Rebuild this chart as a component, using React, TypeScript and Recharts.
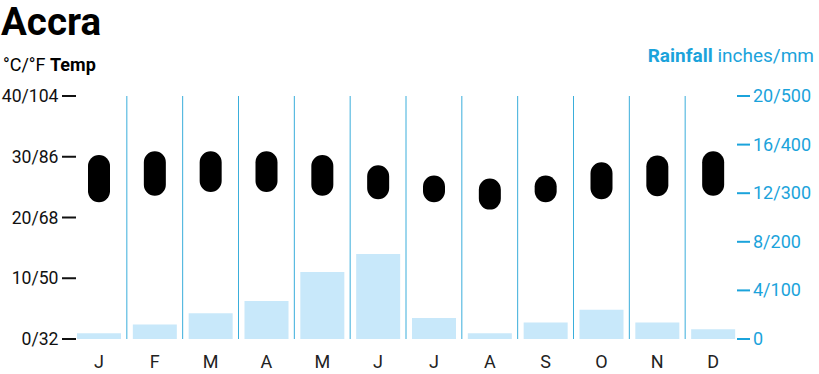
import React from 'react';
import { ComposedChart, Bar, XAxis, YAxis, CartesianGrid } from 'recharts';

const months = ['J', 'F', 'M', 'A', 'M', 'J', 'J', 'A', 'S', 'O', 'N', 'D'];
const tempMin = [22.5, 23.6, 24.2, 24.2, 23.6, 23.0, 22.5, 21.3, 22.5, 23.0, 23.5, 23.6];
const tempMax = [30.3, 30.9, 30.9, 30.9, 30.3, 28.6, 26.9, 26.4, 26.9, 29.1, 30.2, 30.9];
const rainfall = [12, 30, 53, 78, 138, 175, 43, 12, 34, 60, 34, 20];

const tempTicks = [0, 10, 20, 30, 40];
const tempTickLabels = ['0/32', '10/50', '20/68', '30/86', '40/104'];
const rainTicks = [0, 100, 200, 300, 400, 500];
const rainTickLabels = ['0', '4/100', '8/200', '12/300', '16/400', '20/500'];

const data = months.map((m, i) => ({
  key: `${m}${i}`,
  month: m,
  temp: [tempMin[i], tempMax[i]],
  rain: rainfall[i],
}));

const FONT = 'Roboto, sans-serif';
const CYAN = '#1ba3db';
const GRID = '#3aaedb';

const LeftTick = (props: any) => {
  const { y, payload } = props;
  const label = tempTickLabels[tempTicks.indexOf(payload.value)];
  return (
    <g>
      <text x={58.5} y={y} dy={6} textAnchor="end" fontSize={17.6} fontFamily={FONT} fill="#111">
        {label}
      </text>
      <line x1={62} x2={76} y1={y} y2={y} stroke="#111" strokeWidth={2} />
    </g>
  );
};

const RightTick = (props: any) => {
  const { y, payload } = props;
  const label = rainTickLabels[rainTicks.indexOf(payload.value)];
  return (
    <g>
      <line x1={737} x2={750} y1={y} y2={y} stroke={CYAN} strokeWidth={2} />
      <text x={753} y={y} dy={6} textAnchor="start" fontSize={18} fontFamily={FONT} fill={CYAN}>
        {label}
      </text>
    </g>
  );
};

const MonthTick = (props: any) => {
  const { x, y, payload } = props;
  return (
    <text x={x} y={y} dy={13} textAnchor="middle" fontSize={18} fontFamily={FONT} fill="#222">
      {months[payload.index] ?? ''}
    </text>
  );
};

export default function App() {
  return (
    <div style={{ position: 'absolute', left: 0, top: 0, width: 819, height: 374, background: '#fff', fontFamily: FONT }}>
      <div style={{ position: 'absolute', left: 1, top: 0, fontSize: 38.5, lineHeight: '44px', fontWeight: 700, color: '#000' }}>
        Accra
      </div>
      <div style={{ position: 'absolute', left: 3, top: 55.5, fontSize: 18, lineHeight: 1, color: '#000' }}>
        °C/°F <b>Temp</b>
      </div>
      <div style={{ position: 'absolute', right: 5, top: 46, fontSize: 19, lineHeight: 1, color: CYAN }}>
        <b>Rainfall</b> inches/mm
      </div>
      <ComposedChart
        width={819}
        height={374}
        data={data}
        margin={{ top: 96, right: 0, bottom: 0, left: 0 }}
        barCategoryGap={6}
      >
        <CartesianGrid
          horizontal={false}
          stroke={GRID}
          strokeWidth={1}
          verticalCoordinatesGenerator={({ offset }: any) =>
            months.slice(1).map((_, i) => offset.left + ((i + 1) * offset.width) / months.length)
          }
        />
        <XAxis
          xAxisId="x"
          dataKey="key"
          axisLine={false}
          tickLine={false}
          tickSize={0}
          tickMargin={16}
          height={35}
          interval={0}
          tick={<MonthTick />}
        />
        <XAxis xAxisId="x2" dataKey="key" hide />
        <YAxis
          yAxisId="temp"
          orientation="left"
          width={71}
          domain={[0, 40]}
          ticks={tempTicks}
          axisLine={false}
          tickLine={false}
          tick={<LeftTick />}
          interval={0}
        />
        <YAxis
          yAxisId="rain"
          orientation="right"
          width={78}
          domain={[0, 500]}
          ticks={rainTicks}
          axisLine={false}
          tickLine={false}
          tick={<RightTick />}
          interval={0}
        />
        <Bar xAxisId="x" yAxisId="rain" dataKey="rain" fill="#c8e8fa" barSize={44} isAnimationActive={false} />
        <Bar xAxisId="x2" yAxisId="temp" dataKey="temp" fill="#000" barSize={22} radius={11} isAnimationActive={false} />
      </ComposedChart>
    </div>
  );
}
